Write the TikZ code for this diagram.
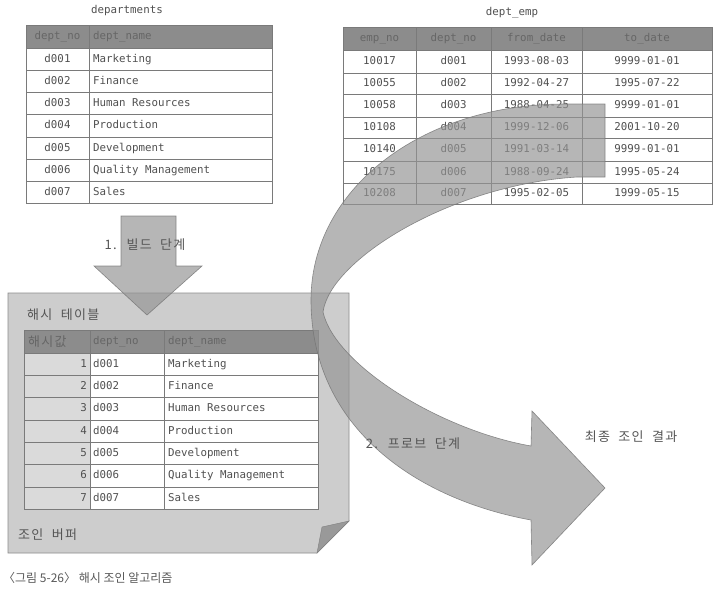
\documentclass[tikz,border=0pt]{standalone}
\usepackage{fontspec}
\setmonofont{DejaVu Sans Mono}
\newfontfamily\kr[WordSpace=2,LetterSpace=10]{Noto Sans CJK KR}
\newfontfamily\krcap{Noto Sans CJK KR}
\definecolor{hdr}{HTML}{8C8C8C}
\definecolor{hdrtxt}{HTML}{666666}
\definecolor{txt}{HTML}{505050}
\definecolor{gridc}{HTML}{7A7A7A}
\definecolor{keyc}{HTML}{DADADA}
\definecolor{bufc}{HTML}{CDCDCD}
\definecolor{lbl}{HTML}{555555}
\tikzset{
  cell/.style={font=\ttfamily\fontsize{10.8}{13}\selectfont, text=txt, inner sep=0pt, text height=8pt, text depth=2pt},
  hcell/.style={cell, text=hdrtxt},
  gridline/.style={draw=gridc, line width=0.8pt},
  klabel/.style={font=\kr\fontsize{13}{15}\selectfont, text=lbl, inner sep=0pt},
  bigarrow/.style={fill=black!42, fill opacity=0.68, draw=black!55, draw opacity=0.8, line width=0.6pt},
}
\begin{document}
\begin{tikzpicture}[x=1pt,y=-1pt]
\useasboundingbox[fill=white] (0,0) rectangle (718,590);

% ---------- departments ----------
\node[cell] (deptitle) at (127,10) {departments};
\fill[hdr] (26,25) rectangle (272,48);
\foreach \y in {48,70,92,114,137,159,181} \draw[gridline] (26,\y) -- (272,\y);
\draw[gridline] (89,25) -- (89,203);
\draw[gridline] (26,25) rectangle (272,203);
\node[hcell] (dh1) at (57.5,36.5) {dept\_no};
\node[hcell, anchor=west] (dh2) at (93,36.5) {dept\_name};
\foreach \n/\nm/\yc [count=\i] in {d001/Marketing/59, d002/Finance/81, d003/Human Resources/103, d004/Production/125.5, d005/Development/148, d006/Quality Management/170, d007/Sales/192}{
  \node[cell] (dn\i) at (57.5,\yc) {\n};
  \node[cell, anchor=west] (dm\i) at (93,\yc) {\nm};
}

% ---------- join buffer ----------
\draw[fill=bufc, draw=black!45, line width=0.6pt] (8,293) -- (349,293) -- (349,521) -- (317,553) -- (8,553) -- cycle;
\fill[black!40, draw=black!50, line width=0.4pt] (317,553) -- (322,527) -- (349,521) -- cycle;
\node[klabel, anchor=west] (htlabel) at (27,315) {해시 테이블};
\node[klabel, anchor=west] (buflabel) at (18,535) {조인 버퍼};

% ---------- hash table ----------
\fill[white] (24,330) rectangle (318,509);
\fill[keyc] (24,353) rectangle (90,509);
\fill[hdr] (24,330) rectangle (318,353);
\foreach \y in {353,375,397,420,442,464,487} \draw[gridline] (24,\y) -- (318,\y);
\draw[gridline] (90,330) -- (90,509);
\draw[gridline] (164,330) -- (164,509);
\draw[gridline] (24,330) rectangle (318,509);
\node[klabel, anchor=west, text=hdrtxt] (hh1) at (28,341.5) {해시값};
\node[hcell, anchor=west] (hh2) at (93,341.5) {dept\_no};
\node[hcell, anchor=west] (hh3) at (168,341.5) {dept\_name};
\foreach \n/\nm/\yc [count=\i] in {d001/Marketing/364, d002/Finance/386, d003/Human Resources/408.5, d004/Production/431, d005/Development/453, d006/Quality Management/475.5, d007/Sales/498}{
  \node[cell, anchor=east] (hk\i) at (87,\yc) {\i};
  \node[cell, anchor=west] (hn\i) at (93,\yc) {\n};
  \node[cell, anchor=west] (hm\i) at (168,\yc) {\nm};
}

% ---------- build arrow ----------
\draw[bigarrow] (121,216) -- (176,216) -- (176,266) -- (202,266) -- (147,315) -- (94,266) -- (121,266) -- cycle;
\node[klabel] (buildlbl) at (145,245) {1. 빌드 단계};

% ---------- dept_emp ----------
\node[cell] (emptitle) at (512,12) {dept\_emp};
\fill[hdr] (343,27) rectangle (712,50);
\foreach \y in {50,73,94,117,138,161,183} \draw[gridline] (343,\y) -- (712,\y);
\foreach \x in {416,491,582} \draw[gridline] (\x,27) -- (\x,204);
\draw[gridline] (343,27) rectangle (712,204);
\node[hcell] (eh1) at (379.5,38.5) {emp\_no};
\node[hcell] (eh2) at (453.5,38.5) {dept\_no};
\node[hcell] (eh3) at (536.5,38.5) {from\_date};
\node[hcell] (eh4) at (647,38.5) {to\_date};
\foreach \e/\d/\f/\t/\yc [count=\i] in {10017/d001/1993-08-03/9999-01-01/61.5, 10055/d002/1992-04-27/1995-07-22/83.5, 10058/d003/1988-04-25/9999-01-01/105.5, 10108/d004/1999-12-06/2001-10-20/127.5, 10140/d005/1991-03-14/9999-01-01/149.5, 10175/d006/1988-09-24/1995-05-24/172, 10208/d007/1995-02-05/1999-05-15/193.5}{
  \node[cell] (ee\i) at (379.5,\yc) {\e};
  \node[cell] (ed\i) at (453.5,\yc) {\d};
  \node[cell] (ef\i) at (536.5,\yc) {\f};
  \node[cell] (et\i) at (647,\yc) {\t};
}

% ---------- probe arrow ----------
\draw[bigarrow] (605,104) -- (565,104)
  .. controls (420,104) and (311,190) .. (311,300)
  .. controls (311,430) and (420,500) .. (531,520)
  -- (532,565) -- (605,488) -- (532,411) -- (531,446)
  .. controls (440,430) and (335,365) .. (323,312)
  .. controls (330,260) and (450,185) .. (577,177)
  -- (605,177) -- cycle;
\node[klabel] (probelbl) at (413,444) {2. 프로브 단계};
\node[klabel] (result) at (631,437) {최종 조인 결과};

% ---------- caption ----------
\node[font=\krcap\fontsize{12}{14}\selectfont, text=black!65, anchor=west, inner sep=0pt] (caption) at (3,578) {〈그림 5-26〉 해시 조인 알고리즘};
\end{tikzpicture}
\end{document}
